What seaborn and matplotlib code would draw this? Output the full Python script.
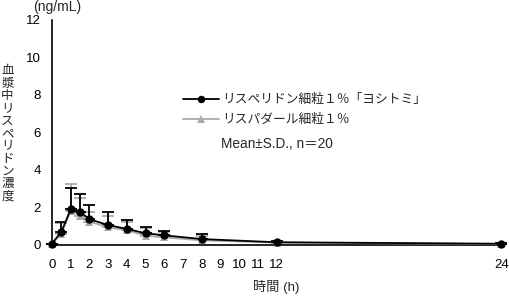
import numpy as np
import pandas as pd
import matplotlib
matplotlib.use("Agg")
import matplotlib.pyplot as plt
import seaborn as sns

# ---- data ----
time_h = [0, 0.5, 1, 1.5, 2, 3, 4, 5, 6, 8, 12, 24]
test_mean = [0.05, 0.68, 1.88, 1.74, 1.35, 1.04, 0.83, 0.60, 0.49, 0.29, 0.12, 0.04]
test_sd = [0.0, 0.54, 1.12, 0.95, 0.78, 0.70, 0.48, 0.35, 0.23, 0.26, 0.05, 0.02]
ref_mean = [0.04, 0.58, 1.80, 1.55, 1.22, 0.92, 0.76, 0.47, 0.38, 0.22, 0.10, 0.03]
ref_sd = [0.0, 0.55, 1.42, 0.91, 0.50, 0.62, 0.45, 0.42, 0.30, 0.26, 0.05, 0.02]
series_names = ["リスペリドン細粒１％「ヨシトミ」", "リスパダール細粒１％"]
x_ticks = list(range(0, 25))
x_ticklabels = [str(t) if (t <= 12 or t == 24) else "" for t in x_ticks]
y_ticks = [0, 2, 4, 6, 8, 10, 12]

df = pd.concat([
    pd.DataFrame({"time": time_h, "conc": test_mean, "sd": test_sd, "series": series_names[0]}),
    pd.DataFrame({"time": time_h, "conc": ref_mean, "sd": ref_sd, "series": series_names[1]}),
])

sns.set_style("white")
plt.rcParams["font.family"] = ["Liberation Sans", "Noto Sans CJK JP", "DejaVu Sans"]

W, H = 509, 296
fig = plt.figure(figsize=(W / 100, H / 100), dpi=100)
ax = fig.add_axes([52 / W, 1 - 244.5 / H, (504 - 52) / W, (244.5 - 20) / H])

colors = {series_names[0]: "#000000", series_names[1]: "#aaaaaa"}
markers = {series_names[0]: "o", series_names[1]: "^"}

# reference (gray) first, then test (black) on top
for name, z in [(series_names[1], 2), (series_names[0], 3)]:
    sub = df[df["series"] == name]
    ax.errorbar(sub["time"], sub["conc"], yerr=[np.zeros(len(sub)), sub["sd"]],
                fmt="none", ecolor=colors[name], elinewidth=1.3, capsize=4,
                capthick=1.3, zorder=z, clip_on=False)

sns.lineplot(data=df, x="time", y="conc", hue="series", style="series",
             palette=colors, markers=markers, dashes=False,
             hue_order=[series_names[0], series_names[1]],
             style_order=[series_names[0], series_names[1]],
             markersize=6, markeredgewidth=0, linewidth=1.3, ax=ax,
             zorder=4, clip_on=False)

for ln in ax.get_lines():
    if ln.get_color() in ("#000000", "black"):
        ln.set_zorder(5)

ax.set_xlim(0, 24.15)
ax.set_ylim(0, 12)
ax.set_xticks(x_ticks)
ax.set_xticklabels(x_ticklabels)
ax.set_yticks(y_ticks)
ax.tick_params(axis="both", direction="in", length=4, width=1, color="black",
               labelsize=9.5, labelcolor="black")
ax.tick_params(axis="x", pad=10.5)
ax.tick_params(axis="y", pad=8)
for s in ["top", "right"]:
    ax.spines[s].set_visible(False)
for s in ["left", "bottom"]:
    ax.spines[s].set_color("black")
    ax.spines[s].set_linewidth(1.2)
ax.set_xlabel("")
ax.set_ylabel("")

leg = ax.legend(loc="upper left", bbox_to_anchor=(183 / W, 1 - 94 / H),
                bbox_transform=fig.transFigure, frameon=False, fontsize=9.2,
                handlelength=2.8, handletextpad=0.3, labelspacing=0.6,
                borderpad=0, borderaxespad=0, markerscale=0.9)

fig.text(221 / W, 1 - 144 / H, "Mean±S.D., n＝20", fontsize=9.8, va="center", ha="left")
fig.text(57 / W, 1 - 7.5 / H, "(ng/mL)", fontsize=10, va="center", ha="center")
fig.text(276 / W, 1 - 287 / H, "時間 (h)", fontsize=9.5, va="center", ha="center")
fig.text(7.5 / W, 1 - 134 / H, "\n".join("血漿中リスペリドン濃度"), fontsize=9,
         va="center", ha="center", linespacing=1.06)

fig.savefig("out.png", dpi=100)
